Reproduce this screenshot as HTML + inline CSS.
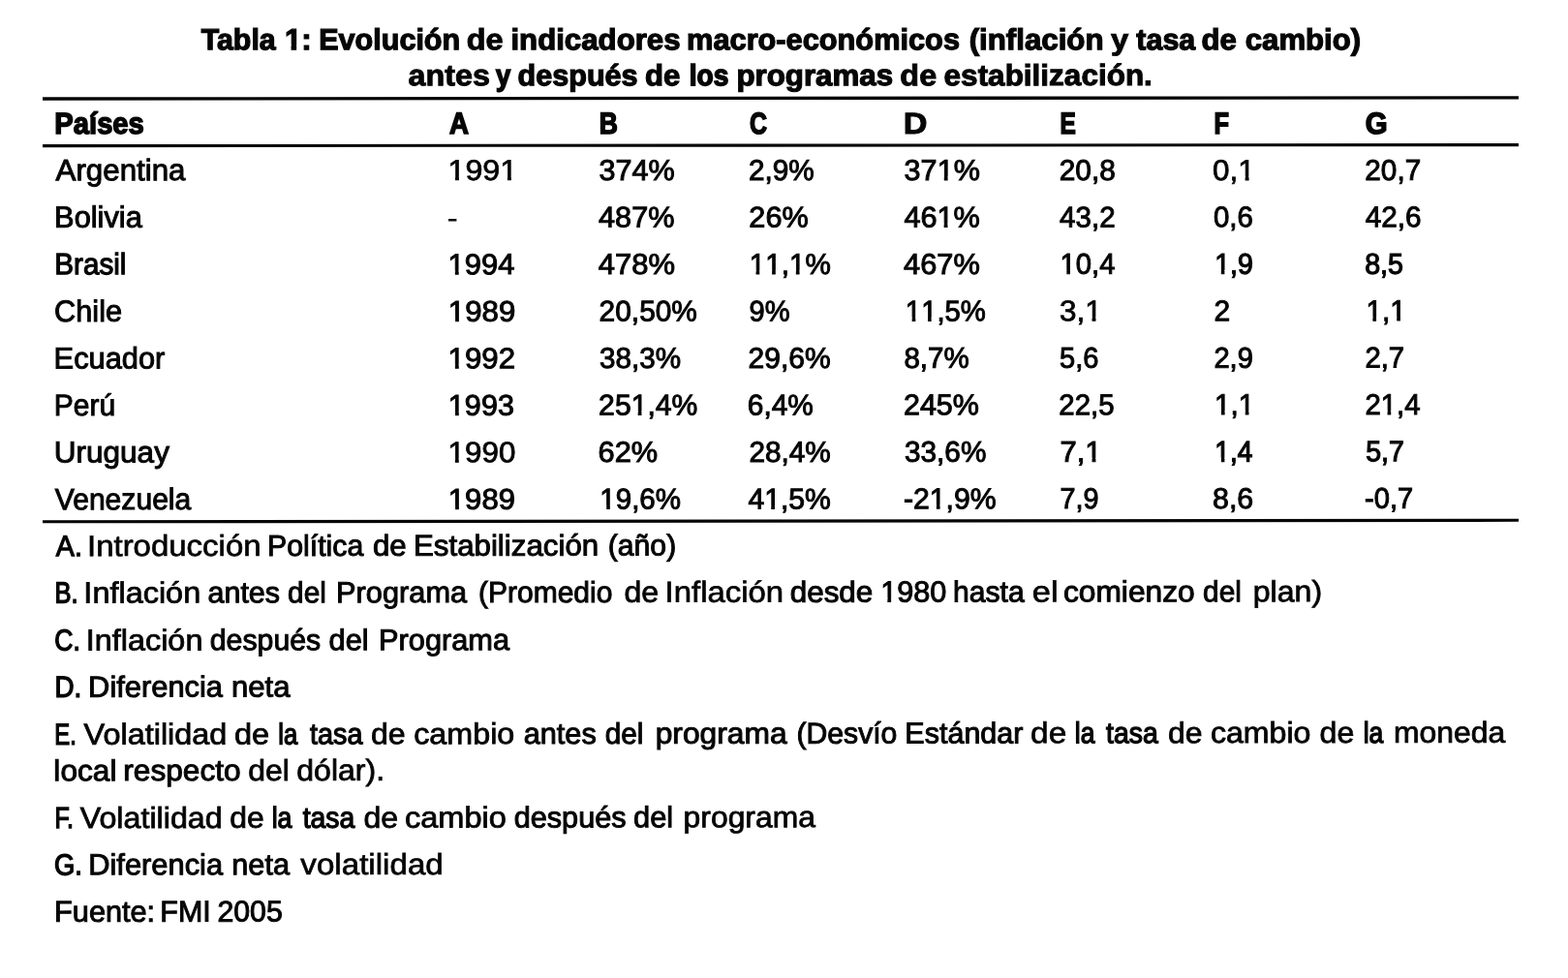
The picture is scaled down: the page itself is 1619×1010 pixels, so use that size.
<!DOCTYPE html>
<html lang="es">
<head>
<meta charset="utf-8">
<title>Tabla 1: Evolución de indicadores macro-económicos</title>
<style>
html,body{margin:0;padding:0;background:#fff}
body{width:1619px;height:1010px;overflow:hidden;position:relative;font-family:"Liberation Sans",sans-serif;color:#060606}
#sheet{position:absolute;left:0;top:0;width:1619px;height:1010px;background:#fff;overflow:hidden}
header,table,thead,tbody,tr,section{display:block;margin:0;padding:0;border:0}
h1,p{display:block;position:absolute;left:0;width:1619px;height:40px;margin:0;padding:0;font-size:30.5px;line-height:40px;font-weight:400;white-space:nowrap}
h1{font-size:30.6px;font-weight:700}
th,td,span{display:block;position:absolute;margin:0;padding:0;border:0;height:40px;white-space:nowrap;font-size:31px;line-height:40px;font-weight:400;font-style:normal;text-align:left;transform-origin:0 0;-webkit-text-stroke:1px #060606;font-kerning:normal;text-rendering:geometricPrecision}
h1 span{font-size:30.6px;font-weight:700;-webkit-text-stroke-width:1.2px}
th{font-size:31px;font-weight:700;-webkit-text-stroke-width:1.2px}
td.n{font-size:30px}
p span{font-size:30.5px}
td.d{-webkit-text-stroke-width:0}
hr{display:block;position:absolute;margin:0;padding:0;border:0;height:4px;background:#060606;transform-origin:0 50%;left:44px;width:1524px}
i{display:inline-block;font-style:normal;height:40px;vertical-align:baseline;clip-path:polygon(0 0,100% 0,100% 26.18px,11.04px 26.18px,11.04px 100%,7.3px 100%,7.3px 26.18px,0 26.18px)}
td.n i{clip-path:polygon(0 0,100% 0,100% 25.26px,10.7px 25.26px,10.7px 100%,7.04px 100%,7.04px 25.26px,0 25.26px)}
p i{clip-path:polygon(0 0,100% 0,100% 26.22px,10.87px 26.22px,10.87px 100%,7.17px 100%,7.17px 26.22px,0 26.22px)}
h1 i{clip-path:polygon(0 0,100% 0,100% 25.28px,11.94px 25.28px,11.94px 100%,6.54px 100%,6.54px 25.28px,0 25.28px)}
</style>
</head>
<body>
<div id="sheet">
<header>
<h1 id="h0" style="top:17px"><span id="h0w0" style="left:207px;top:4px;transform:translate(0.65px,0.3px) rotate(-0.04deg) scaleX(0.9925)">Tabla</span> <span id="h0w1" style="left:293px;top:4px;transform:translate(0.92px,0.3px) rotate(-0.04deg) scaleX(1.0222)"><i>1</i>:</span> <span id="h0w2" style="left:329px;top:4px;transform:translate(0.15px,0.3px) rotate(-0.04deg) scaleX(0.999)">Evolución</span> <span id="h0w3" style="left:481px;top:4px;transform:translate(0.75px,0.3px) rotate(-0.04deg) scaleX(1.0612);-webkit-text-stroke-width:0.9px">de</span> <span id="h0w4" style="left:527px;top:4px;transform:translate(0.38px,0.3px) rotate(-0.04deg) scaleX(1.0199)">indicadores</span> <span id="h0w5" style="left:709px;top:4px;transform:translate(0.08px,0.3px) rotate(-0.04deg) scaleX(1.0048)">macro-económicos</span> <span id="h0w6" style="left:1000px;top:4px;transform:translate(0.61px,0.3px) rotate(-0.04deg) scaleX(1.0212)">(inflación</span> <span id="h0w7" style="left:1147px;top:4px;transform:translate(0.03px,0.3px) rotate(-0.04deg) scaleX(1.0735);-webkit-text-stroke-width:0.9px">y</span> <span id="h0w8" style="left:1173px;top:4px;transform:translate(0.33px,0.3px) rotate(-0.04deg) scaleX(0.9943)">tasa</span> <span id="h0w9" style="left:1240px;top:4px;transform:translate(0.58px,0.3px) rotate(-0.04deg) scaleX(1.0173)">de</span> <span id="h0w10" style="left:1285px;top:4px;transform:translate(0.74px,0.3px) rotate(-0.04deg) scaleX(1.0175)">cambio)</span></h1>
<h1 id="h1" style="top:54px"><span id="h1w0" style="left:421px;top:4px;transform:translate(0.53px,0.2px) rotate(-0.04deg) scaleX(1.0576);-webkit-text-stroke-width:0.9px">antes</span> <span id="h1w1" style="left:511px;top:4px;transform:translate(0.9px,0.2px) rotate(-0.04deg) scaleX(0.895);-webkit-text-stroke-width:1.6px">y</span> <span id="h1w2" style="left:534px;top:4px;transform:translate(0.55px,0.2px) rotate(-0.04deg) scaleX(0.9991)">después</span> <span id="h1w3" style="left:665px;top:4px;transform:translate(0.98px,0.2px) rotate(-0.04deg) scaleX(1.0173)">de</span> <span id="h1w4" style="left:711px;top:4px;transform:translate(0.77px,0.2px) rotate(-0.04deg) scaleX(0.9172);-webkit-text-stroke-width:1.6px">los</span> <span id="h1w5" style="left:760px;top:4px;transform:translate(0.4px,0.2px) rotate(-0.04deg) scaleX(1.0227)">programas</span> <span id="h1w6" style="left:929px;top:4px;transform:translate(0.35px,0.2px) rotate(-0.04deg) scaleX(1.0582);-webkit-text-stroke-width:0.9px">de</span> <span id="h1w7" style="left:974px;top:4px;transform:translate(0.58px,0.2px) rotate(-0.04deg) scaleX(1.0294);-webkit-text-stroke-width:1px">estabilización.</span></h1>
</header>
<hr style="top:100px;transform:translateY(0px) rotate(-0.043deg) scaleY(0.825)">
<table>
<thead>
<tr>
<th id="th0" style="left:56px;top:108px;transform:translate(0.35px,0px) rotate(-0.04deg) scaleX(0.9407);-webkit-text-stroke-width:1.5px">Países</th>
<th id="th1" style="left:463px;top:108px;transform:translate(0.93px,0px) rotate(-0.04deg) scaleX(0.8928);-webkit-text-stroke-width:1.6px">A</th>
<th id="th2" style="left:618px;top:108px;transform:translate(0.81px,0px) rotate(-0.04deg) scaleX(0.8533);-webkit-text-stroke-width:1.6px">B</th>
<th id="th3" style="left:774px;top:108px;transform:translate(0.02px,0px) rotate(-0.04deg) scaleX(0.8047);-webkit-text-stroke-width:1.6px">C</th>
<th id="th4" style="left:932px;top:108px;transform:translate(0.71px,0px) rotate(-0.04deg) scaleX(1.1047);-webkit-text-stroke-width:0.9px">D</th>
<th id="th5" style="left:1094px;top:108px;transform:translate(0.49px,0px) rotate(-0.04deg) scaleX(0.7894);-webkit-text-stroke-width:1.6px">E</th>
<th id="th6" style="left:1253px;top:108px;transform:translate(0.56px,0px) rotate(-0.04deg) scaleX(0.8195);-webkit-text-stroke-width:1.6px">F</th>
<th id="th7" style="left:1409px;top:108px;transform:translate(0.8px,0px) rotate(-0.04deg) scaleX(0.9496);-webkit-text-stroke-width:1.5px">G</th>
</tr>
</thead>
<tbody>
<tr>
<td id="c0_0" style="left:57px;top:156px;transform:translate(0.54px,0.2px) rotate(-0.04deg) scaleX(1.0093)">Argentina</td>
<td class="n" id="c0_1" style="left:462px;top:157px;transform:translate(0.37px,0.11px) rotate(-0.04deg) scaleX(1.0779);-webkit-text-stroke-width:0.7px"><i>1</i>99<i>1</i></td>
<td class="n" id="c0_2" style="left:618px;top:157px;transform:translate(0.39px,0.08px) rotate(-0.04deg) scaleX(1.0196)">374%</td>
<td class="n" id="c0_3" style="left:772px;top:157px;transform:translate(0.9px,0.04px) rotate(-0.04deg) scaleX(0.9923)">2,9%</td>
<td class="n" id="c0_4" style="left:933px;top:157px;transform:translate(0.59px,0.01px) rotate(-0.04deg) scaleX(1.0194)">37<i>1</i>%</td>
<td class="n" id="c0_5" style="left:1093px;top:156px;transform:translate(0.7px,0.97px) rotate(-0.04deg) scaleX(0.9951)">20,8</td>
<td class="n" id="c0_6" style="left:1252px;top:156px;transform:translate(0.09px,0.94px) rotate(-0.04deg) scaleX(1.0471);-webkit-text-stroke-width:0.8px">0,<i>1</i></td>
<td class="n" id="c0_7" style="left:1409px;top:156px;transform:translate(0.3px,0.9px) rotate(-0.04deg) scaleX(0.9916)">20,7</td>
</tr>
<tr>
<td id="c1_0" style="left:56px;top:204px;transform:translate(0.07px,0.77px) rotate(-0.04deg) scaleX(0.9935)">Bolivia</td>
<td class="n d" id="c1_1" style="left:461px;top:206px;transform:translate(0.47px,0.13px) rotate(-0.04deg) scaleX(1.1454)">-</td>
<td class="n" id="c1_2" style="left:618px;top:205px;transform:translate(0.06px,0.58px) rotate(-0.04deg) scaleX(1.0214)">487%</td>
<td class="n" id="c1_3" style="left:773px;top:205px;transform:translate(0.32px,0.53px) rotate(-0.04deg) scaleX(1.0211)">26%</td>
<td class="n" id="c1_4" style="left:933px;top:205px;transform:translate(0.36px,0.47px) rotate(-0.04deg) scaleX(1.0225)">46<i>1</i>%</td>
<td class="n" id="c1_5" style="left:1094px;top:205px;transform:translate(0.06px,0.42px) rotate(-0.04deg) scaleX(0.9844)">43,2</td>
<td class="n" id="c1_6" style="left:1252px;top:205px;transform:translate(0.89px,0.37px) rotate(-0.04deg) scaleX(0.9819)">0,6</td>
<td class="n" id="c1_7" style="left:1409px;top:205px;transform:translate(0.61px,0.31px) rotate(-0.04deg) scaleX(0.9916)">42,6</td>
</tr>
<tr>
<td id="c2_0" style="left:56px;top:253px;transform:translate(0.24px,0.34px) rotate(-0.04deg) scaleX(0.9568);-webkit-text-stroke-width:1.2px">Brasil</td>
<td class="n" id="c2_1" style="left:462px;top:254px;transform:translate(0.59px,0.15px) rotate(-0.04deg) scaleX(1.0315)"><i>1</i>994</td>
<td class="n" id="c2_2" style="left:617px;top:254px;transform:translate(0.65px,0.09px) rotate(-0.04deg) scaleX(1.0333)">478%</td>
<td class="n" id="c2_3" style="left:773px;top:254px;transform:translate(0.64px,0.01px) rotate(-0.04deg) scaleX(0.9886)"><i>1</i><i>1</i>,<i>1</i>%</td>
<td class="n" id="c2_4" style="left:933px;top:253px;transform:translate(0.06px,0.94px) rotate(-0.04deg) scaleX(1.0253)">467%</td>
<td class="n" id="c2_5" style="left:1094px;top:253px;transform:translate(0.52px,0.87px) rotate(-0.04deg) scaleX(0.9741)"><i>1</i>0,4</td>
<td class="n" id="c2_6" style="left:1254px;top:253px;transform:translate(0.12px,0.8px) rotate(-0.04deg) scaleX(0.9531);-webkit-text-stroke-width:1.2px"><i>1</i>,9</td>
<td class="n" id="c2_7" style="left:1409px;top:253px;transform:translate(0.13px,0.73px) rotate(-0.04deg) scaleX(0.9565);-webkit-text-stroke-width:1.2px">8,5</td>
</tr>
<tr>
<td id="c3_0" style="left:56px;top:301px;transform:translate(0.04px,0.91px) rotate(-0.04deg) scaleX(0.9912)">Chile</td>
<td class="n" id="c3_1" style="left:462px;top:302px;transform:translate(0.76px,0.68px) rotate(-0.04deg) scaleX(1.0419)"><i>1</i>989</td>
<td class="n" id="c3_2" style="left:618px;top:302px;transform:translate(0.6px,0.59px) rotate(-0.04deg) scaleX(0.9953)">20,50%</td>
<td class="n" id="c3_3" style="left:773px;top:302px;transform:translate(0.57px,0.5px) rotate(-0.04deg) scaleX(0.9694)">9%</td>
<td class="n" id="c3_4" style="left:934px;top:302px;transform:translate(0.82px,0.41px) rotate(-0.04deg) scaleX(0.9766)"><i>1</i><i>1</i>,5%</td>
<td class="n" id="c3_5" style="left:1093px;top:302px;transform:translate(0.92px,0.32px) rotate(-0.04deg) scaleX(1.0491);-webkit-text-stroke-width:0.8px">3,<i>1</i></td>
<td class="n" id="c3_6" style="left:1253px;top:302px;transform:translate(0.59px,0.23px) rotate(-0.04deg) scaleX(1.0021)">2</td>
<td class="n" id="c3_7" style="left:1410px;top:302px;transform:translate(0.43px,0.14px) rotate(-0.04deg) scaleX(0.9927)"><i>1</i>,<i>1</i></td>
</tr>
<tr>
<td id="c4_0" style="left:55px;top:350px;transform:translate(0.57px,0.48px) rotate(-0.04deg) scaleX(0.9937)">Ecuador</td>
<td class="n" id="c4_1" style="left:462px;top:351px;transform:translate(0.56px,0.2px) rotate(-0.04deg) scaleX(1.0418)"><i>1</i>992</td>
<td class="n" id="c4_2" style="left:618px;top:351px;transform:translate(0.96px,0.09px) rotate(-0.04deg) scaleX(0.9885)">38,3%</td>
<td class="n" id="c4_3" style="left:772px;top:350px;transform:translate(0.59px,0.99px) rotate(-0.04deg) scaleX(1.0012)">29,6%</td>
<td class="n" id="c4_4" style="left:933px;top:350px;transform:translate(0.36px,0.88px) rotate(-0.04deg) scaleX(0.9848)">8,7%</td>
<td class="n" id="c4_5" style="left:1094px;top:350px;transform:translate(0.07px,0.77px) rotate(-0.04deg) scaleX(0.9702)">5,6</td>
<td class="n" id="c4_6" style="left:1253px;top:350px;transform:translate(0.37px,0.66px) rotate(-0.04deg) scaleX(0.9727)">2,9</td>
<td class="n" id="c4_7" style="left:1409px;top:350px;transform:translate(0.36px,0.55px) rotate(-0.04deg) scaleX(0.9774)">2,7</td>
</tr>
<tr>
<td id="c5_0" style="left:55px;top:399px;transform:translate(0.67px,0.05px) rotate(-0.046deg) scaleX(0.9682)">Perú</td>
<td class="n" id="c5_1" style="left:462px;top:399px;transform:translate(0.82px,0.72px) rotate(-0.046deg) scaleX(1.0198)"><i>1</i>993</td>
<td class="n" id="c5_2" style="left:618px;top:399px;transform:translate(0.09px,0.6px) rotate(-0.046deg) scaleX(1.0051)">25<i>1</i>,4%</td>
<td class="n" id="c5_3" style="left:771px;top:399px;transform:translate(0.78px,0.47px) rotate(-0.046deg) scaleX(0.9955)">6,4%</td>
<td class="n" id="c5_4" style="left:932px;top:399px;transform:translate(0.92px,0.34px) rotate(-0.046deg) scaleX(1.0166)">245%</td>
<td class="n" id="c5_5" style="left:1093px;top:399px;transform:translate(0.26px,0.21px) rotate(-0.046deg) scaleX(0.9802)">22,5</td>
<td class="n" id="c5_6" style="left:1253px;top:399px;transform:translate(0.93px,0.08px) rotate(-0.046deg) scaleX(0.9927)"><i>1</i>,<i>1</i></td>
<td class="n" id="c5_7" style="left:1409px;top:398px;transform:translate(0.36px,0.96px) rotate(-0.046deg) scaleX(0.9787)">2<i>1</i>,4</td>
</tr>
<tr>
<td id="c6_0" style="left:55px;top:447px;transform:translate(0.62px,0.62px) rotate(-0.053deg) scaleX(1.0179)">Uruguay</td>
<td class="n" id="c6_1" style="left:462px;top:448px;transform:translate(0.5px,0.24px) rotate(-0.053deg) scaleX(1.0458);-webkit-text-stroke-width:0.8px"><i>1</i>990</td>
<td class="n" id="c6_2" style="left:617px;top:448px;transform:translate(0.5px,0.1px) rotate(-0.053deg) scaleX(1.0265)">62%</td>
<td class="n" id="c6_3" style="left:773px;top:447px;transform:translate(0.4px,0.96px) rotate(-0.053deg) scaleX(0.9916)">28,4%</td>
<td class="n" id="c6_4" style="left:933px;top:447px;transform:translate(0.96px,0.81px) rotate(-0.053deg) scaleX(0.9921)">33,6%</td>
<td class="n" id="c6_5" style="left:1094px;top:447px;transform:translate(0.37px,0.66px) rotate(-0.053deg) scaleX(1.0349)">7,<i>1</i></td>
<td class="n" id="c6_6" style="left:1254px;top:447px;transform:translate(0.32px,0.51px) rotate(-0.053deg) scaleX(0.9324);-webkit-text-stroke-width:1.3px"><i>1</i>,4</td>
<td class="n" id="c6_7" style="left:1410px;top:447px;transform:translate(0.13px,0.37px) rotate(-0.053deg) scaleX(0.9525);-webkit-text-stroke-width:1.2px">5,7</td>
</tr>
<tr>
<td id="c7_0" style="left:56px;top:496px;transform:translate(0.7px,0.19px) rotate(-0.06deg) scaleX(0.9707)">Venezuela</td>
<td class="n" id="c7_1" style="left:462px;top:496px;transform:translate(0.77px,0.77px) rotate(-0.06deg) scaleX(1.0372)"><i>1</i>989</td>
<td class="n" id="c7_2" style="left:619px;top:496px;transform:translate(0.3px,0.6px) rotate(-0.06deg) scaleX(0.9839)"><i>1</i>9,6%</td>
<td class="n" id="c7_3" style="left:772px;top:496px;transform:translate(0.41px,0.45px) rotate(-0.06deg) scaleX(1.0045)">4<i>1</i>,5%</td>
<td class="n" id="c7_4" style="left:932px;top:496px;transform:translate(0.86px,0.28px) rotate(-0.06deg) scaleX(1.0077)">-2<i>1</i>,9%</td>
<td class="n" id="c7_5" style="left:1094px;top:496px;transform:translate(0.55px,0.11px) rotate(-0.06deg) scaleX(0.9609)">7,9</td>
<td class="n" id="c7_6" style="left:1251px;top:495px;transform:translate(0.99px,0.95px) rotate(-0.06deg) scaleX(1.0126)">8,6</td>
<td class="n" id="c7_7" style="left:1409px;top:495px;transform:translate(0.04px,0.78px) rotate(-0.06deg) scaleX(0.9687)">-0,7</td>
</tr>
</tbody>
</table>
<hr style="top:148px;transform:translateY(0.6px) rotate(-0.038deg) scaleY(0.775)">
<hr style="top:536px;transform:translateY(0.8px) rotate(-0.056deg) scaleY(0.775)">
<section>
<p id="n0" style="top:540px"><span id="n0w0" style="left:57px;top:4px;transform:translate(0.81px,0.2px) rotate(-0.063deg) scaleX(0.9381);-webkit-text-stroke-width:1.2px">A.</span> <span id="n0w1" style="left:89px;top:4px;transform:translate(0.94px,0.16px) rotate(-0.063deg) scaleX(1.081);-webkit-text-stroke-width:0.7px">Introducción</span> <span id="n0w2" style="left:276px;top:3px;transform:translate(0.01px,0.96px) rotate(-0.063deg) scaleX(0.9926)">Política</span> <span id="n0w3" style="left:384px;top:3px;transform:translate(0.95px,0.84px) rotate(-0.063deg) scaleX(1.0248)">de</span> <span id="n0w4" style="left:426px;top:3px;transform:translate(0.9px,0.79px) rotate(-0.063deg) scaleX(1.0256)">Estabilización</span> <span id="n0w5" style="left:627px;top:3px;transform:translate(0.72px,0.57px) rotate(-0.063deg) scaleX(0.9895)">(año)</span></p>
<p id="n1" style="top:589px"><span id="n1w0" style="left:56px;top:3px;transform:translate(0.49px,0.5px) rotate(-0.061deg) scaleX(0.838);-webkit-text-stroke-width:1.4px">B.</span> <span id="n1w1" style="left:86px;top:3px;transform:translate(0.33px,0.47px) rotate(-0.061deg) scaleX(1.0637);-webkit-text-stroke-width:0.8px">Inflación</span> <span id="n1w2" style="left:214px;top:3px;transform:translate(0.4px,0.33px) rotate(-0.061deg) scaleX(1.001)">antes</span> <span id="n1w3" style="left:297px;top:3px;transform:translate(0.09px,0.24px) rotate(-0.061deg) scaleX(0.9771)">del</span> <span id="n1w4" style="left:347px;top:3px;transform:translate(0.08px,0.19px) rotate(-0.061deg) scaleX(1.0082)">Programa</span> <span id="n1w5" style="left:493px;top:3px;transform:translate(0.88px,0.03px) rotate(-0.061deg) scaleX(0.9846)">(Promedio</span> <span id="n1w6" style="left:644px;top:2px;transform:translate(0.47px,0.87px) rotate(-0.061deg) scaleX(1.0529);-webkit-text-stroke-width:0.8px">de</span> <span id="n1w7" style="left:686px;top:2px;transform:translate(0.54px,0.82px) rotate(-0.061deg) scaleX(1.0793);-webkit-text-stroke-width:0.7px">Inflación</span> <span id="n1w8" style="left:815px;top:2px;transform:translate(0.64px,0.69px) rotate(-0.061deg) scaleX(1.031)">desde</span> <span id="n1w9" style="left:909px;top:2px;transform:translate(0.15px,0.58px) rotate(-0.061deg) scaleX(1.0057)"><i>1</i>980</span> <span id="n1w10" style="left:983px;top:2px;transform:translate(0.91px,0.51px) rotate(-0.061deg) scaleX(0.9876)">hasta</span> <span id="n1w11" style="left:1065px;top:2px;transform:translate(0.83px,0.42px) rotate(-0.061deg) scaleX(1.1272);-webkit-text-stroke-width:0.7px">el</span> <span id="n1w12" style="left:1097px;top:2px;transform:translate(0.92px,0.38px) rotate(-0.061deg) scaleX(1.0398)">comienzo</span> <span id="n1w13" style="left:1242px;top:2px;transform:translate(0.09px,0.23px) rotate(-0.061deg) scaleX(0.9771)">del</span> <span id="n1w14" style="left:1293px;top:2px;transform:translate(0.75px,0.17px) rotate(-0.061deg) scaleX(1.0514);-webkit-text-stroke-width:0.8px">plan)</span></p>
<p id="n2" style="top:638px"><span id="n2w0" style="left:56px;top:3px;transform:translate(0.26px,0.5px) rotate(-0.049deg) scaleX(0.8706);-webkit-text-stroke-width:1.4px">C.</span> <span id="n2w1" style="left:88px;top:3px;transform:translate(0.74px,0.47px) rotate(-0.049deg) scaleX(1.0619);-webkit-text-stroke-width:0.8px">Inflación</span> <span id="n2w2" style="left:216px;top:3px;transform:translate(0.73px,0.36px) rotate(-0.049deg) scaleX(0.9926)">después</span> <span id="n2w3" style="left:339px;top:3px;transform:translate(0.51px,0.26px) rotate(-0.049deg) scaleX(1.0083)">del</span> <span id="n2w4" style="left:390px;top:3px;transform:translate(0.98px,0.21px) rotate(-0.049deg) scaleX(1.0089)">Programa</span></p>
<p id="n3" style="top:686px"><span id="n3w0" style="left:56px;top:3px;transform:translate(0.36px,0.7px) rotate(-0.047deg) scaleX(0.9093);-webkit-text-stroke-width:1.4px">D.</span> <span id="n3w1" style="left:91px;top:3px;transform:translate(0.07px,0.67px) rotate(-0.047deg) scaleX(1.0117)">Diferencia</span> <span id="n3w2" style="left:238px;top:3px;transform:translate(0.89px,0.55px) rotate(-0.047deg) scaleX(1.0215)">neta</span></p>
<p id="n4" style="top:735px"><span id="n4w0" style="left:56px;top:3px;transform:translate(0.19px,0.7px) rotate(-0.077deg) scaleX(0.7818);-webkit-text-stroke-width:1.4px">E.</span> <span id="n4w1" style="left:86px;top:3px;transform:translate(0.58px,0.66px) rotate(-0.077deg) scaleX(1.0627);-webkit-text-stroke-width:0.8px">Volatilidad</span> <span id="n4w2" style="left:241px;top:3px;transform:translate(0.96px,0.45px) rotate(-0.077deg) scaleX(1.0685);-webkit-text-stroke-width:0.8px">de</span> <span id="n4w3" style="left:287px;top:3px;transform:translate(0.16px,0.39px) rotate(-0.077deg) scaleX(0.84);-webkit-text-stroke-width:1.4px">la</span> <span id="n4w4" style="left:319px;top:3px;transform:translate(0.93px,0.35px) rotate(-0.077deg) scaleX(0.9453);-webkit-text-stroke-width:1.2px">tasa</span> <span id="n4w5" style="left:382px;top:3px;transform:translate(0.87px,0.26px) rotate(-0.077deg) scaleX(1.0529);-webkit-text-stroke-width:0.8px">de</span> <span id="n4w6" style="left:427px;top:3px;transform:translate(0.15px,0.21px) rotate(-0.077deg) scaleX(1.0585);-webkit-text-stroke-width:0.8px">cambio</span> <span id="n4w7" style="left:540px;top:3px;transform:translate(0.6px,0.05px) rotate(-0.077deg) scaleX(1.0065)">antes</span> <span id="n4w8" style="left:624px;top:2px;transform:translate(0.59px,0.94px) rotate(-0.077deg) scaleX(0.9771)">del</span> <span id="n4w9" style="left:676px;top:2px;transform:translate(0.62px,0.87px) rotate(-0.077deg) scaleX(1.0411)">programa</span> <span id="n4w10" style="left:822px;top:2px;transform:translate(0.42px,0.68px) rotate(-0.077deg) scaleX(0.9891)">(Desvío</span> <span id="n4w11" style="left:934px;top:2px;transform:translate(0.3px,0.53px) rotate(-0.077deg) scaleX(1.0003)">Estándar</span> <span id="n4w12" style="left:1064px;top:2px;transform:translate(0.08px,0.35px) rotate(-0.077deg) scaleX(1.0937);-webkit-text-stroke-width:0.7px">de</span> <span id="n4w13" style="left:1109px;top:2px;transform:translate(0.73px,0.29px) rotate(-0.077deg) scaleX(0.866);-webkit-text-stroke-width:1.4px">la</span> <span id="n4w14" style="left:1142px;top:2px;transform:translate(0.08px,0.25px) rotate(-0.077deg) scaleX(0.9317);-webkit-text-stroke-width:1.3px">tasa</span> <span id="n4w15" style="left:1205px;top:2px;transform:translate(0.98px,0.16px) rotate(-0.077deg) scaleX(1.0467);-webkit-text-stroke-width:0.8px">de</span> <span id="n4w16" style="left:1249px;top:2px;transform:translate(0.86px,0.11px) rotate(-0.077deg) scaleX(1.0533);-webkit-text-stroke-width:0.8px">cambio</span> <span id="n4w17" style="left:1362px;top:1px;transform:translate(0.57px,0.96px) rotate(-0.077deg) scaleX(1.0529);-webkit-text-stroke-width:0.8px">de</span> <span id="n4w18" style="left:1407px;top:1px;transform:translate(0.62px,0.89px) rotate(-0.077deg) scaleX(0.8703);-webkit-text-stroke-width:1.4px">la</span> <span id="n4w19" style="left:1439px;top:1px;transform:translate(0px,0.85px) rotate(-0.077deg) scaleX(1.0458);-webkit-text-stroke-width:0.8px">moneda</span></p>
<p id="n5" style="top:772px"><span id="n5w0" style="left:55px;top:4px;transform:translate(0.33px,0.2px) rotate(-0.068deg) scaleX(1.038)">local</span> <span id="n5w1" style="left:127px;top:4px;transform:translate(0.27px,0.11px) rotate(-0.068deg) scaleX(1.0368)">respecto</span> <span id="n5w2" style="left:256px;top:3px;transform:translate(0.28px,0.96px) rotate(-0.068deg) scaleX(1.0476);-webkit-text-stroke-width:0.8px">del</span> <span id="n5w3" style="left:306px;top:3px;transform:translate(0.28px,0.9px) rotate(-0.068deg) scaleX(1.0494);-webkit-text-stroke-width:0.8px">dólar).</span></p>
<p id="n6" style="top:821px"><span id="n6w0" style="left:56px;top:4px;transform:translate(0.52px,0.1px) rotate(-0.073deg) scaleX(0.8213);-webkit-text-stroke-width:1.4px">F.</span> <span id="n6w1" style="left:82px;top:4px;transform:translate(0.68px,0.07px) rotate(-0.073deg) scaleX(1.0569);-webkit-text-stroke-width:0.8px">Volatilidad</span> <span id="n6w2" style="left:237px;top:3px;transform:translate(0.18px,0.87px) rotate(-0.073deg) scaleX(1.0467);-webkit-text-stroke-width:0.8px">de</span> <span id="n6w3" style="left:280px;top:3px;transform:translate(0.61px,0.81px) rotate(-0.073deg) scaleX(0.8747);-webkit-text-stroke-width:1.4px">la</span> <span id="n6w4" style="left:312px;top:3px;transform:translate(0.68px,0.78px) rotate(-0.073deg) scaleX(0.93);-webkit-text-stroke-width:1.3px">tasa</span> <span id="n6w5" style="left:375px;top:3px;transform:translate(0.37px,0.69px) rotate(-0.073deg) scaleX(1.0529);-webkit-text-stroke-width:0.8px">de</span> <span id="n6w6" style="left:417px;top:3px;transform:translate(0.94px,0.64px) rotate(-0.073deg) scaleX(1.0678);-webkit-text-stroke-width:0.8px">cambio</span> <span id="n6w7" style="left:530px;top:3px;transform:translate(0.61px,0.5px) rotate(-0.073deg) scaleX(1.0057)">después</span> <span id="n6w8" style="left:654px;top:3px;transform:translate(0.01px,0.34px) rotate(-0.073deg) scaleX(1.0109)">del</span> <span id="n6w9" style="left:705px;top:3px;transform:translate(0.56px,0.27px) rotate(-0.073deg) scaleX(1.0442);-webkit-text-stroke-width:0.8px">programa</span></p>
<p id="n7" style="top:869px"><span id="n7w0" style="left:55px;top:4px;transform:translate(0.95px,0.4px) rotate(-0.072deg) scaleX(0.8981);-webkit-text-stroke-width:1.4px">G.</span> <span id="n7w1" style="left:91px;top:4px;transform:translate(0.17px,0.35px) rotate(-0.072deg) scaleX(1.0117)">Diferencia</span> <span id="n7w2" style="left:239px;top:4px;transform:translate(0.16px,0.17px) rotate(-0.072deg) scaleX(1.0077)">neta</span> <span id="n7w3" style="left:310px;top:4px;transform:translate(0.27px,0.08px) rotate(-0.072deg) scaleX(1.0872);-webkit-text-stroke-width:0.7px">volatilidad</span></p>
<p id="n8" style="top:918px"><span id="n8w0" style="left:56px;top:3px;transform:translate(0.09px,0.7px) rotate(-0.04deg) scaleX(1.0055)">Fuente:</span> <span id="n8w1" style="left:165px;top:3px;transform:translate(0.3px,0.65px) rotate(-0.04deg) scaleX(0.9979)">FMI</span> <span id="n8w2" style="left:224px;top:3px;transform:translate(0.37px,0.63px) rotate(-0.04deg) scaleX(0.9933)">2005</span></p>
</section>
</div>
</body>
</html>
